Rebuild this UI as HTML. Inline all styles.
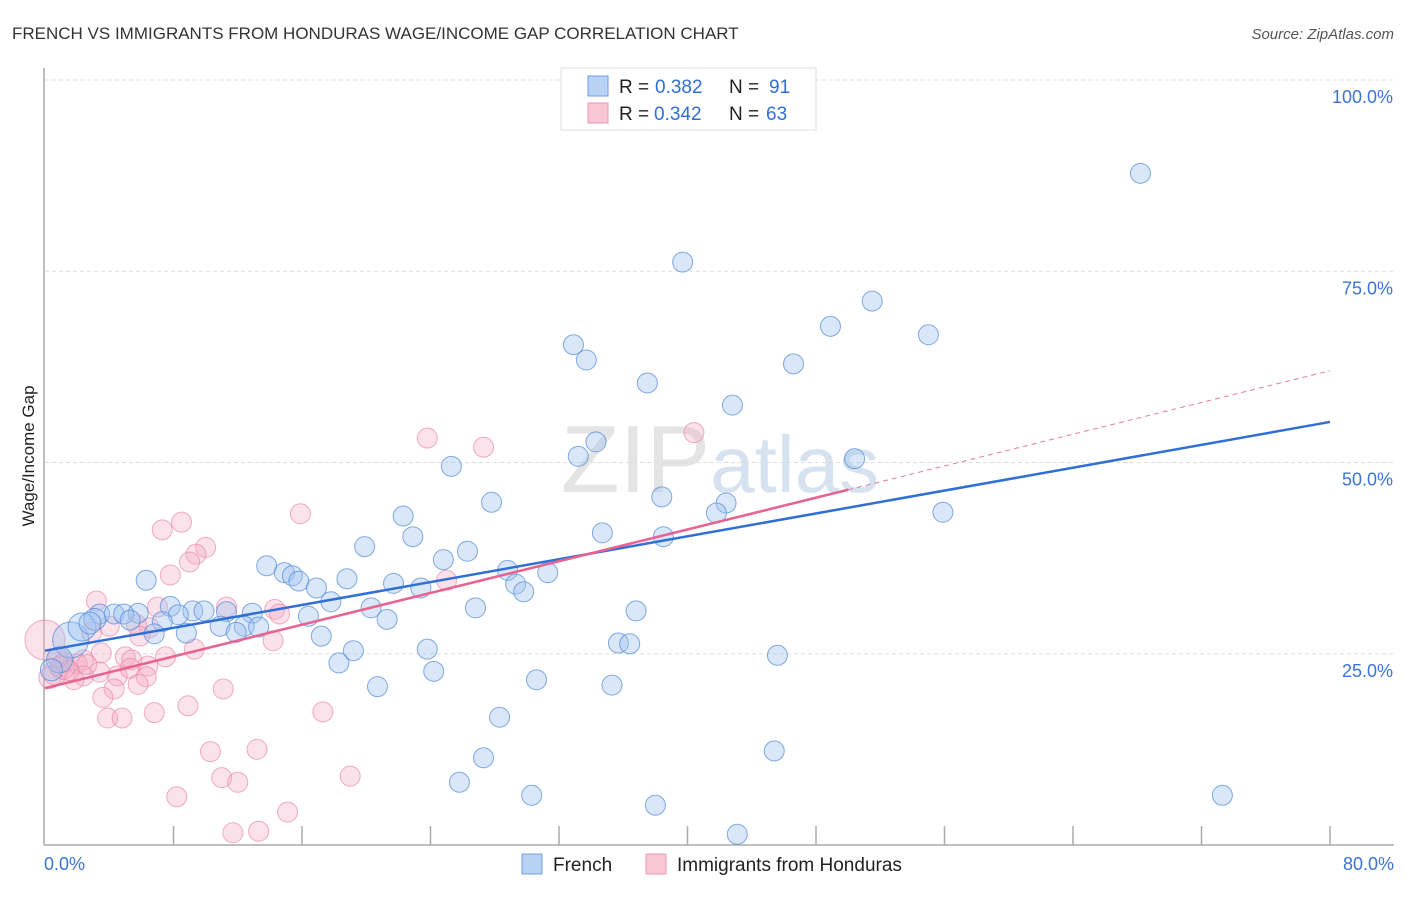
<!DOCTYPE html>
<html><head><meta charset="utf-8"><style>
body{margin:0;background:#fff;font-family:"Liberation Sans",sans-serif}
svg text{font-family:"Liberation Sans",sans-serif}
</style></head><body>
<svg id="chart" width="1406" height="892">
<text x="12" y="39" font-size="17" fill="#333">FRENCH VS IMMIGRANTS FROM HONDURAS WAGE/INCOME GAP CORRELATION CHART</text>
<text x="1394" y="39" font-size="15" fill="#555" text-anchor="end" font-style="italic">Source: ZipAtlas.com</text>
<text x="720" y="492" font-size="96" fill="#e4e4e4" text-anchor="middle" font-family="Liberation Serif">ZIP<tspan fill="#d6e2f0" font-family="Liberation Sans" font-size="80">atlas</tspan></text>
<g id="grid"></g>
<g id="axes"></g>
<g id="pts"></g>
<g id="lines"></g>
<text transform="translate(34,456) rotate(-90)" font-size="17" fill="#222" text-anchor="middle">Wage/Income Gap</text>
<g>
<rect x="561" y="68" width="255" height="62" fill="#fff" stroke="#ddd"/>
<rect x="588" y="76" width="20" height="20" fill="#b8d2f4" stroke="#6f9ee0"/>
<rect x="588" y="103" width="20" height="20" fill="#f9c6d5" stroke="#ec98b2"/>
<text x="619" y="93" font-size="19" fill="#222">R = </text><text x="655" y="93" font-size="19" fill="#2f6fd6">0.382</text>
<text x="729" y="93" font-size="19" fill="#222">N = </text><text x="769" y="93" font-size="19" fill="#2f6fd6">91</text>
<text x="619" y="120" font-size="19" fill="#222">R = </text><text x="654" y="120" font-size="19" fill="#2f6fd6">0.342</text>
<text x="729" y="120" font-size="19" fill="#222">N = </text><text x="766" y="120" font-size="19" fill="#2f6fd6">63</text>
</g>
<g>
<rect x="522" y="854" width="20" height="20" fill="#b8d2f4" stroke="#6f9ee0"/>
<text x="553" y="871" font-size="19" fill="#222">French</text>
<rect x="646" y="854" width="20" height="20" fill="#f9c6d5" stroke="#ec98b2"/>
<text x="677" y="871" font-size="19" fill="#222">Immigrants from Honduras</text>
</g>
</svg>
<script>
const yTicks=[25,50,75,100];
const yTickLabels=["25.0%","50.0%","75.0%","100.0%"];
const xTicks=[0,8,16,24,32,40,48,56,64,72,80];
const blueX=[68.2,39.7,51.5,48.9,55.0,32.9,33.7,46.6,37.5,42.8,34.3,33.2,25.3,50.4,38.4,27.8,42.4,41.8,55.9,22.3,34.7,22.9,38.5,19.9,26.3,24.8,13.8,28.8,31.3,14.9,15.4,15.8,6.3,18.8,21.7,16.9,29.3,23.4,29.8,17.8,7.8,26.8,20.3,36.8,9.2,9.9,11.3,5.8,12.9,3.4,4.3,4.9,16.4,8.3,21.3,5.3,7.3,10.9,12.4,13.3,11.9,8.8,6.8,17.2,35.7,36.4,23.8,19.2,45.6,18.3,24.2,30.6,20.7,35.3,28.3,45.4,27.3,25.8,30.3,38.0,43.1,73.3,1.6,2.3,0.9,0.4,3.1,2.8];
const blueY=[87.8,76.2,71.1,67.8,66.7,65.4,63.4,62.9,60.4,57.5,52.7,50.8,49.5,50.5,45.5,44.8,44.7,43.4,43.5,43.0,40.8,40.3,40.3,39.0,38.4,37.3,36.5,35.9,35.6,35.6,35.2,34.5,34.6,34.8,34.2,33.6,34.1,33.6,33.1,31.8,31.2,31.0,31.0,30.6,30.6,30.6,30.5,30.3,30.3,30.2,30.2,30.2,29.9,30.1,29.5,29.4,29.2,28.6,28.6,28.5,27.8,27.7,27.6,27.3,26.4,26.3,25.6,25.4,24.8,23.8,22.7,21.6,20.7,20.9,16.7,12.3,11.4,8.2,6.5,5.2,1.4,6.5,26.8,28.5,24.2,22.9,29.5,29.0];
const blueR=[10,10,10,10,10,10,10,10,10,10,10,10,10,10,10,10,10,10,10,10,10,10,10,10,10,10,10,10,10,10,10,10,10,10,10,10,10,10,10,10,10,10,10,10,10,10,10,10,10,10,10,10,10,10,10,10,10,10,10,10,10,10,10,10,10,10,10,10,10,10,10,10,10,10,10,10,10,10,10,10,10,10,18,14,13,11,11,11];
const pinkX=[23.8,27.3,40.4,15.9,8.5,7.3,10.0,9.4,9.0,7.8,25.0,3.2,7.0,11.3,14.3,14.6,5.7,4.0,6.5,2.9,5.9,14.2,9.3,3.5,0.0,5.0,5.4,7.5,2.4,1.2,2.0,6.4,4.5,5.3,0.9,3.4,6.3,2.4,1.8,5.8,4.3,11.1,3.6,8.9,17.3,6.8,3.9,4.8,10.3,13.2,19.0,11.0,12.0,8.2,15.1,11.7,13.3,0.6,1.1,0.3,1.5,2.6,0.8];
const pinkY=[53.2,52.0,53.9,43.3,42.2,41.2,38.9,38.0,37.0,35.3,34.6,31.9,31.1,31.1,30.8,30.2,28.8,28.6,28.4,27.8,27.3,26.7,25.6,25.1,26.8,24.6,24.2,24.6,24.2,23.9,23.7,23.4,22.1,23.1,23.3,22.6,22.0,22.1,21.6,21.0,20.4,20.4,19.3,18.2,17.4,17.3,16.6,16.6,12.2,12.5,9.0,8.8,8.2,6.3,4.3,1.6,1.8,22.5,23.2,21.9,22.8,23.6,24.5];
const pinkR=[10,10,10,10,10,10,10,10,10,10,10,10,10,10,10,10,10,10,10,10,10,10,10,10,20,10,10,10,10,10,10,10,10,10,10,10,10,10,10,10,10,10,10,10,10,10,10,10,10,10,10,10,10,10,10,10,10,12,12,11,10,10,10];
const blueTrend=[25.4,55.3];
const pinkTrend=[20.5,62.0];
const pinkSolidEnd=50;
const NS="http://www.w3.org/2000/svg";
const X0=45,X1=1330,Y0=845,Y100=80;
function sx(v){return X0+v*(X1-X0)/80;}
function sy(v){return Y0-v*(Y0-Y100)/100;}
function mk(tag,attrs,parent){const e=document.createElementNS(NS,tag);for(const k in attrs)e.setAttribute(k,attrs[k]);document.getElementById(parent).appendChild(e);return e;}
yTicks.forEach((t,i)=>{
 const g=mk('line',{x1:45,x2:1394,y1:sy(t),y2:sy(t),stroke:'#ddd','stroke-dasharray':'4,3'},'grid');
 
 
 const tx=mk('text',{x:1393,y:sy(t)+23,'font-size':18,fill:'#3a74d4','text-anchor':'end'},'grid');
 tx.textContent=yTickLabels[i];
 
 
});
const ax=mk('line',{x1:44,x2:44,y1:68,y2:845,stroke:'#aaa','stroke-width':1.5},'axes');


const xa=mk('line',{x1:44,x2:1394,y1:845,y2:845,stroke:'#aaa','stroke-width':1.5},'axes');


xTicks.forEach(t=>{if(t===0)return;
 const l=mk('line',{x1:sx(t),x2:sx(t),y1:826,y2:845,stroke:'#aaa','stroke-width':1.5},'axes');
 
 
});
const xl0=mk('text',{x:44,y:870,'font-size':18,fill:'#3a74d4'},'axes');xl0.textContent='0.0%';


const xl1=mk('text',{x:1394,y:870,'font-size':18,fill:'#3a74d4','text-anchor':'end'},'axes');xl1.textContent='80.0%';


pinkX.forEach((v,i)=>{
 const c=mk('circle',{cx:sx(v),cy:sy(pinkY[i]),r:pinkR[i],fill:'rgba(244,170,195,0.35)',stroke:'rgba(232,130,165,0.65)','stroke-width':1},'pts');
 
 
});
blueX.forEach((v,i)=>{
 const c=mk('circle',{cx:sx(v),cy:sy(blueY[i]),r:blueR[i],fill:'rgba(160,195,240,0.4)',stroke:'rgba(80,135,215,0.7)','stroke-width':1},'pts');
 
 
});
const pslope=(pinkTrend[1]-pinkTrend[0])/80;
const pd=mk('line',{x1:sx(pinkSolidEnd),y1:sy(pinkTrend[0]+pslope*pinkSolidEnd),x2:sx(80),y2:sy(pinkTrend[1]),stroke:'#e87ba0','stroke-width':1,'stroke-dasharray':'5,4'},'lines');


const bl=mk('line',{x1:sx(0),y1:sy(blueTrend[0]),x2:sx(80),y2:sy(blueTrend[1]),stroke:'#2f6fd6','stroke-width':2.5},'lines');


const pl=mk('line',{x1:sx(0),y1:sy(pinkTrend[0]),x2:sx(pinkSolidEnd),y2:sy(pinkTrend[0]+pslope*pinkSolidEnd),stroke:'#e8638f','stroke-width':2.5},'lines');


</script>
</body></html>
